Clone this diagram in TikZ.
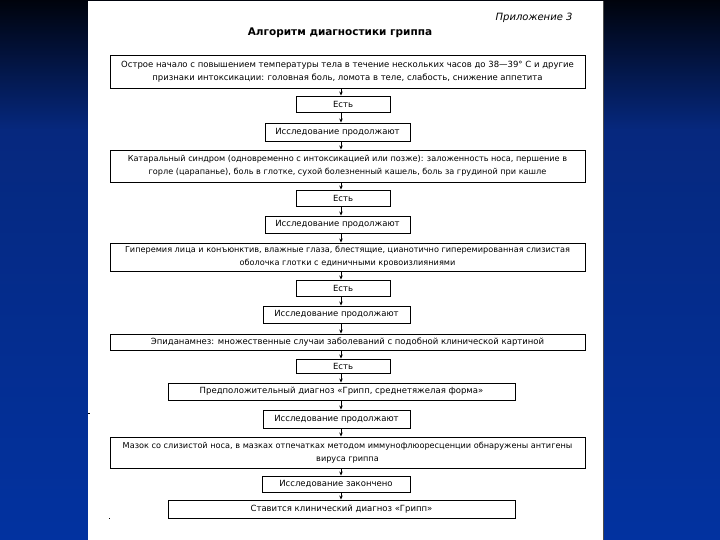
\documentclass[tikz,border=0pt]{standalone}
\usepackage{fontspec}
\setmainfont{DejaVu Sans}
\usetikzlibrary{arrows.meta}
\definecolor{bgtop}{HTML}{00030C}
\definecolor{bgmid}{HTML}{06287E}
\definecolor{bgbot}{HTML}{0232A0}
\tikzset{
  box/.style={draw=black, line width=0.9pt, fill=white, inner sep=1pt, align=center, font=\fontsize{8.5}{13}\selectfont},
  tightbox/.style={box, font=\fontsize{8.15}{13}\selectfont},
  smallbox/.style={box, minimum height=16pt},
  conn/.style={-{Stealth[length=4pt,width=3.5pt]}, line width=0.8pt, black},
}
\begin{document}
\begin{tikzpicture}[x=1pt,y=-1pt]
\useasboundingbox (0,0) rectangle (720,540);
% background
\shade[top color=bgtop, bottom color=bgmid] (0,0) rectangle (720,130);
\shade[top color=bgmid, bottom color=bgbot] (0,130) rectangle (720,540);
\fill[white] (88,1) rectangle (603,540);
\draw[black!70, line width=0.6pt] (603,1) -- (603,540);
% header
\node[font=\fontsize{10}{11}\selectfont\itshape, anchor=east] (app) at (576,18) {Приложение 3};
\node[font=\fontsize{10.5}{12}\selectfont\bfseries] (title) at (340,33) {Алгоритм диагностики гриппа};
% boxes
\node[box, minimum width=475pt, minimum height=33pt] (b1) at (347.5,71.5)
 {Острое начало с повышением температуры тела в течение нескольких часов до 38—39° С и другие\\признаки интоксикации: головная боль, ломота в теле, слабость, снижение аппетита};
\node[smallbox, minimum width=94pt] (b2) at (343,104) {Есть};
\node[box, minimum width=145pt, minimum height=18pt] (b3) at (337.5,132) {Исследование продолжают};
\node[tightbox, minimum width=475pt, minimum height=32pt] (b4) at (347.5,166)
 {Катаральный синдром (одновременно с интоксикацией или позже): заложенность носа, першение в\\горле (царапанье), боль в глотке, сухой болезненный кашель, боль за грудиной при кашле};
\node[smallbox, minimum width=94pt] (b5) at (343,198) {Есть};
\node[box, minimum width=145pt, minimum height=17pt] (b6) at (337.5,224.5) {Исследование продолжают};
\node[tightbox, minimum width=475pt, minimum height=28pt] (b7) at (347.5,257)
 {Гиперемия лица и конъюнктив, влажные глаза, блестящие, цианотично гиперемированная слизистая\\оболочка глотки с единичными кровоизлияниями};
\node[smallbox, minimum width=94pt] (b8) at (343,288) {Есть};
\node[box, minimum width=147pt, minimum height=17pt] (b9) at (336.5,314.5) {Исследование продолжают};
\node[box, minimum width=475pt, minimum height=16pt] (b10) at (347.5,342)
 {Эпиданамнез: множественные случаи заболеваний с подобной клинической картиной};
\node[smallbox, minimum width=94pt, minimum height=14pt] (b11) at (343,366) {Есть};
\node[box, minimum width=347pt, minimum height=17pt] (b12) at (341.5,391.5) {Предположительный диагноз «Грипп, среднетяжелая форма»};
\node[box, minimum width=147pt, minimum height=18pt] (b13) at (336.5,419) {Исследование продолжают};
\node[tightbox, minimum width=475pt, minimum height=31pt] (b14) at (347.5,452.5)
 {Мазок со слизистой носа, в мазках отпечатках методом иммунофлюоресценции обнаружены антигены\\вируса гриппа};
\node[box, minimum width=148pt, minimum height=16pt] (b15) at (336,484) {Исследование закончено};
\node[box, minimum width=347pt, minimum height=18pt] (b16) at (341.5,509) {Ставится клинический диагноз «Грипп»};
% connectors
\coordinate (ax) at (341,0);
\foreach \a/\b in {b1/b2,b2/b3,b3/b4,b4/b5,b5/b6,b6/b7,b7/b8,b8/b9,b9/b10,b10/b11,b11/b12,b12/b13,b13/b14,b14/b15,b15/b16}
  \draw[conn] (\a.south -| ax) -- (\b.north -| ax);
% stray marks
\fill[black] (108.5,517.5) rectangle (110,519);
\fill[black] (88,413) rectangle (89.5,414);
\end{tikzpicture}
\end{document}
